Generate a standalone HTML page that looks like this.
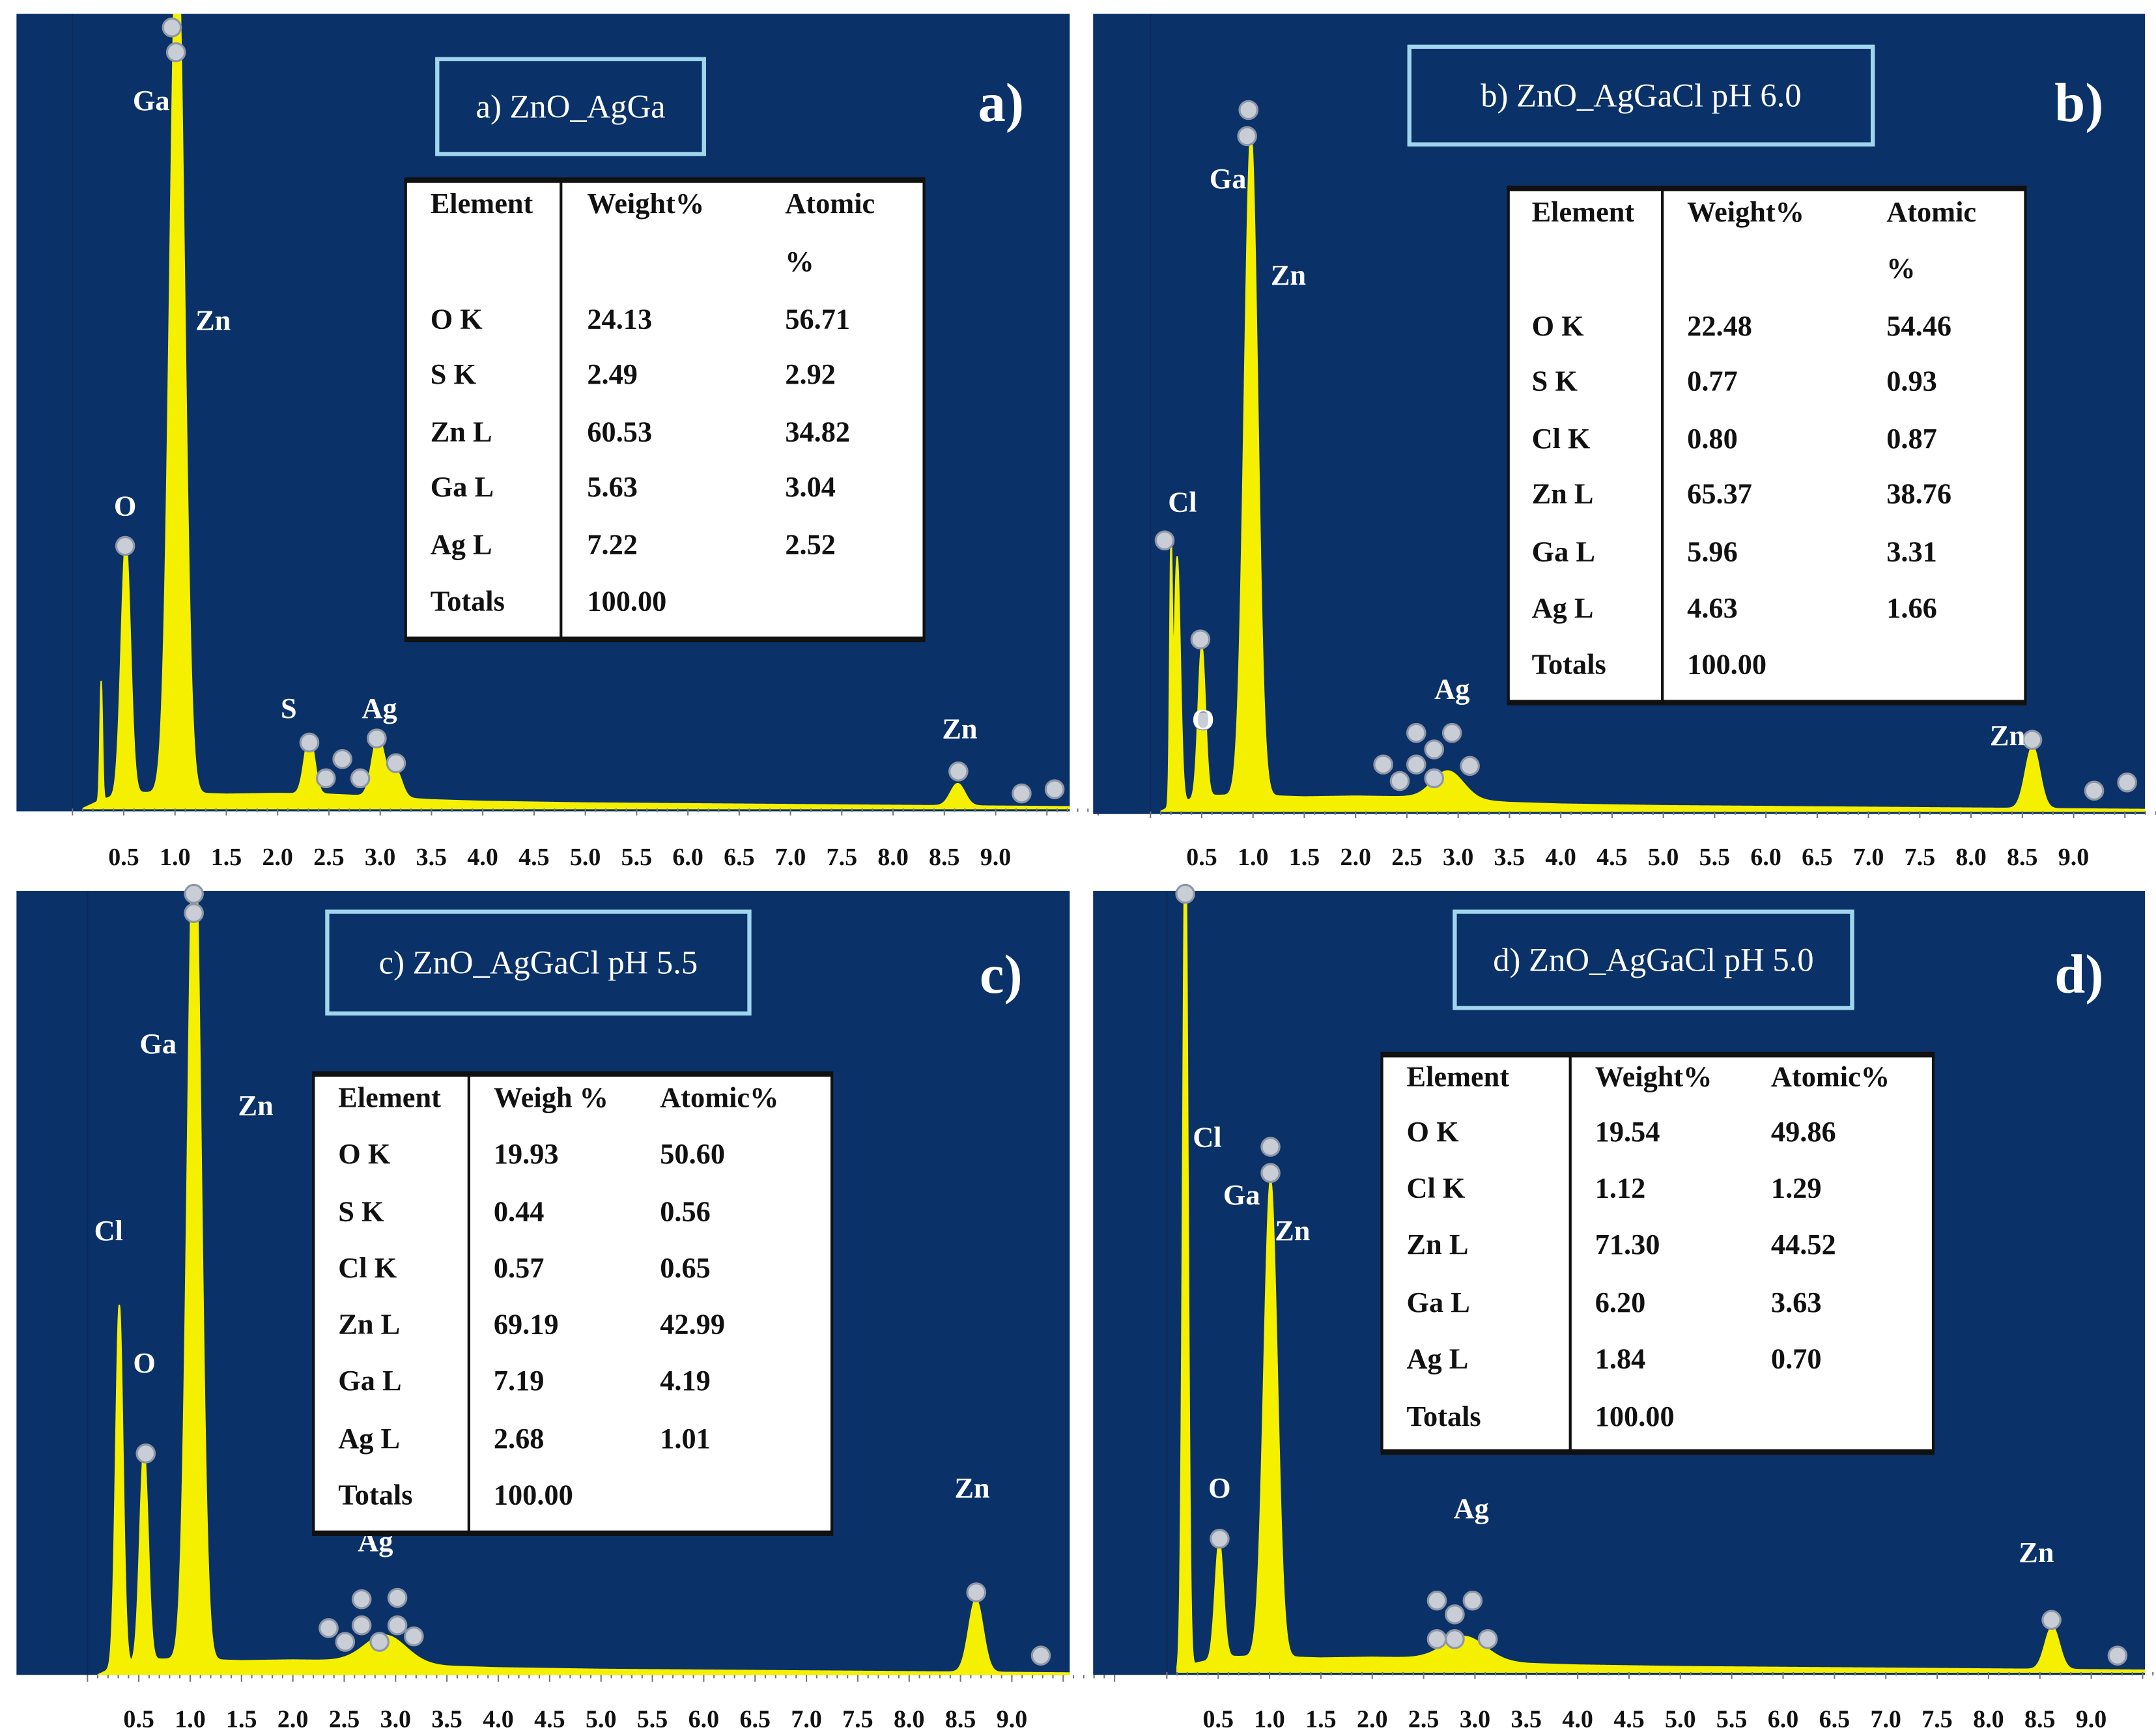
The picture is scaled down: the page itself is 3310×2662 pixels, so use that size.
<!DOCTYPE html>
<html><head><meta charset="utf-8"><style>
html,body{margin:0;padding:0;background:#fff}
svg{display:block}
text{font-family:"Liberation Serif",serif;}
</style></head><body>
<svg id="fig" width="3310" height="2662" viewBox="0 0 1568 1261" preserveAspectRatio="none" xmlns="http://www.w3.org/2000/svg">
<rect x="0" y="0" width="1568" height="1261" fill="#fff"/>
<g id="root"></g>
</svg>
<script>
// ---- data ----
const tickLabels = ["0.5","1.0","1.5","2.0","2.5","3.0","3.5","4.0","4.5","5.0","5.5","6.0","6.5","7.0","7.5","8.0","8.5","9.0"];
const tickValues = [0.5,1.0,1.5,2.0,2.5,3.0,3.5,4.0,4.5,5.0,5.5,6.0,6.5,7.0,7.5,8.0,8.5,9.0];
const bgE = [0.1,0.3,0.6,1.0,1.5,2.0,2.5,3.0,3.5,4.0,5.0,6.0,7.0,8.0,9.0,10.0];
const bgA = [0,1.2,2.0,2.0,1.8,1.9,1.8,1.5,1.1,0.9,0.7,0.6,0.5,0.4,0.3,0.2];
const peaksA_E = [0.28,0.52,1.02,2.31,2.98,3.15,8.63];
const peaksA_H = [15,32,110,7.4,7.6,3.5,2.8];
const peaksA_W = [0.012,0.045,0.07,0.05,0.06,0.06,0.07];
const peaksB_E = [0.2,0.26,0.5,0.98,2.9,8.6];
const peaksB_H = [30,31,19,83,3.5,7.8];
const peaksB_W = [0.012,0.03,0.035,0.065,0.15,0.07];
const peaksC_E = [0.31,0.55,1.04,2.9,8.65];
const peaksC_H = [46,27,110,3.5,9.3];
const peaksC_W = [0.035,0.04,0.065,0.2,0.07];
const peaksD_E = [0.18,0.51,1.01,2.9,8.62];
const peaksD_H = [110,15,61,3,5.5];
const peaksD_W = [0.025,0.04,0.065,0.2,0.07];
const tableA = [["Element","Weight%","Atomic"],["","","%"],["O K","24.13","56.71"],["S K","2.49","2.92"],["Zn L","60.53","34.82"],["Ga L","5.63","3.04"],["Ag L","7.22","2.52"],["Totals","100.00",""]];
const tableB = [["Element","Weight%","Atomic"],["","","%"],["O K","22.48","54.46"],["S K","0.77","0.93"],["Cl K","0.80","0.87"],["Zn L","65.37","38.76"],["Ga L","5.96","3.31"],["Ag L","4.63","1.66"],["Totals","100.00",""]];
const tableC = [["Element","Weigh %","Atomic%"],["O K","19.93","50.60"],["S K","0.44","0.56"],["Cl K","0.57","0.65"],["Zn L","69.19","42.99"],["Ga L","7.19","4.19"],["Ag L","2.68","1.01"],["Totals","100.00",""]];
const tableD = [["Element","Weight%","Atomic%"],["O K","19.54","49.86"],["Cl K","1.12","1.29"],["Zn L","71.30","44.52"],["Ga L","6.20","3.63"],["Ag L","1.84","0.70"],["Totals","100.00",""]];

const NS="http://www.w3.org/2000/svg";
const root=document.getElementById('root');
function mk(tag,attrs,parent){const e=document.createElementNS(NS,tag);for(const k in attrs)e.setAttribute(k,attrs[k]);(parent||root).appendChild(e);return e;}

const panels=[
 {id:'a',x:12,y:10,w:766,h:580,base:588,top:10,x0:52.7,k:74.6,labY:623,pE:peaksA_E,pH:peaksA_H,pW:peaksA_W,
  tb:{x:295,y:130,w:377,h:336,div:408,cols:[313,427,571],rows:[147,189,231,271,313,353,395,436],d:tableA},
  title:{x:318,y:43,w:194,h:69,t:"a) ZnO_AgGa"},tag:{x:728,y:88,t:"a)"},
  labels:[["Ga",110,80],["Zn",155,240],["O",91,375],["S",210,522],["Ag",276,522],["Zn",698,537]],
  circ:[[125,20],[128,38],[91,397],[225,540],[237,566],[249,552],[262,566],[274,537],[288,555],[697,561],[743,577],[767,574]]},
 {id:'b',x:795,y:10,w:765,h:582,base:590,top:10,x0:836.7,k:74.6,labY:623,pE:peaksB_E,pH:peaksB_H,pW:peaksB_W,
  tb:{x:1097,y:136,w:376,h:376,div:1209,cols:[1114,1227,1372],rows:[153,194,236,276,318,358,400,441,482],d:tableB},
  title:{x:1025,y:34,w:337,h:71,t:"b)     ZnO_AgGaCl pH 6.0"},tag:{x:1512,y:88,t:"b)"},
  labels:[["Ga",893,137],["Zn",937,207],["Cl",860,372],["O",875,530],["Ag",1056,508],["Zn",1460,542]],
  circ:[[908,80],[907,99],[847,393],[873,465],[875,524],[1006,556],[1018,568],[1030,533],[1030,556],[1043,545],[1056,533],[1043,566],[1069,557],[1478,538],[1523,575],[1547,569]]},
 {id:'c',x:12,y:648,w:766,h:570,base:1218,top:648,x0:63.6,k:74.7,labY:1250,pE:peaksC_E,pH:peaksC_H,pW:peaksC_W,
  tb:{x:228,y:780,w:377,h:336,div:341,cols:[246,359,480],rows:[797,838,880,921,962,1003,1045,1086],d:tableC},
  title:{x:238,y:663,w:307,h:74,t:"c) ZnO_AgGaCl  pH 5.5"},tag:{x:728,y:722,t:"c)"},
  labels:[["Ga",115,766],["Zn",186,811],["Cl",79,902],["O",105,998],["Ag",273,1128],["Zn",707,1089]],
  circ:[[141,650],[141,664],[106,1057],[239,1184],[251,1194],[263,1163],[263,1182],[276,1194],[289,1162],[289,1182],[301,1190],[710,1158],[757,1204]]},
 {id:'d',x:795,y:648,w:765,h:570,base:1216,top:648,x0:848.6,k:74.7,labY:1250,pE:peaksD_E,pH:peaksD_H,pW:peaksD_W,
  tb:{x:1005,y:766,w:401,h:291,div:1142,cols:[1023,1160,1288],rows:[782,822,863,904,946,987,1029],d:tableD},
  title:{x:1058,y:663,w:289,h:70,t:"d) ZnO_AgGaCl  pH 5.0"},tag:{x:1512,y:722,t:"d)"},
  labels:[["Cl",878,834],["Ga",903,876],["Zn",940,902],["O",887,1089],["Ag",1070,1104],["Zn",1481,1136]],
  circ:[[862,650],[924,834],[924,853],[887,1119],[1045,1164],[1058,1174],[1071,1164],[1045,1192],[1058,1192],[1082,1192],[1492,1178],[1540,1204]]}
];

function bgAt(e){for(let i=0;i<bgE.length-1;i++){if(e>=bgE[i]&&e<=bgE[i+1]){const t=(e-bgE[i])/(bgE[i+1]-bgE[i]);return bgA[i]+t*(bgA[i+1]-bgA[i]);}}return 0;}

panels.forEach(p=>{
  const g=mk('g',{});
  
  
  const bg=mk('rect',{x:p.x,y:p.y,width:p.w,height:p.h,fill:'#0b3169'},g);
  
  
  const cp=mk('clipPath',{id:'clip'+p.id},g);
  mk('rect',{x:p.x,y:p.y,width:p.w,height:p.h},cp);
  const xs=e=>p.x0+e*p.k;
  const ys=c=>p.base-c*(p.base-p.top)/100;
  mk('line',{x1:xs(0),y1:p.y,x2:xs(0),y2:p.base,stroke:'#0a2a5a','stroke-width':1},g);
  let d='M'+xs(0.1)+','+p.base;
  for(let e=0.1;e<=10.0;e+=0.005){
    let c=bgAt(e);
    for(let i=0;i<p.pE.length;i++){const z=(e-p.pE[i])/p.pW[i];c+=p.pH[i]*Math.exp(-0.5*z*z);}
    d+=' L'+xs(e).toFixed(2)+','+ys(c).toFixed(2);
  }
  d+=' L'+xs(10)+','+p.base+' Z';
  const sp=mk('path',{d:d,fill:'#f4f000',stroke:'#f4f000','stroke-width':1,'clip-path':'url(#clip'+p.id+')'},g);
  
  
  for(let e=0;e<=10;e+=0.1){
    mk('line',{x1:xs(e),y1:p.base,x2:xs(e),y2:p.base+ (Math.abs(e*2-Math.round(e*2))<0.01?5:2.5),stroke:'#777','stroke-width':1},g);
  }
  tickValues.forEach((v,i)=>{
    const t=mk('text',{x:xs(v),y:p.labY+6,'text-anchor':'middle','font-size':18,'font-weight':'bold',fill:'#111'},g);
    t.textContent=tickLabels[i];
    
    
  });
  p.circ.forEach(c=>{
    const ci=mk('circle',{cx:c[0],cy:c[1],r:6.5,fill:'#c8cdd6',stroke:'#8d96a6','stroke-width':1.5},g);
    
    
  });
  p.labels.forEach(l=>{
    const t=mk('text',{x:l[1],y:l[2],'text-anchor':'middle','font-size':21,'font-weight':'bold',fill:'#fff'},g);
    t.textContent=l[0];
    
    
  });
  const tb=mk('rect',{x:p.title.x,y:p.title.y,width:p.title.w,height:p.title.h,fill:'none',stroke:'#9fd6ec','stroke-width':3},g);
  
  
  const tt=mk('text',{x:p.title.x+p.title.w/2,y:p.title.y+p.title.h/2+8,'text-anchor':'middle','font-size':24,fill:'#fff','xml:space':'preserve'},g);
  tt.textContent=p.title.t;
  
  
  const tg=mk('text',{x:p.tag.x,y:p.tag.y,'text-anchor':'middle','font-size':40,'font-weight':'bold',fill:'#fff'},g);
  tg.textContent=p.tag.t;
  
  
  const T=p.tb;
  const tr=mk('rect',{x:T.x,y:T.y,width:T.w,height:T.h,fill:'#fff',stroke:'#111','stroke-width':2},g);
  
  
  mk('line',{x1:T.x,y1:T.y+1,x2:T.x+T.w,y2:T.y+1,stroke:'#111','stroke-width':4},g);
  mk('line',{x1:T.x,y1:T.y+T.h-1,x2:T.x+T.w,y2:T.y+T.h-1,stroke:'#111','stroke-width':4},g);
  mk('line',{x1:T.div,y1:T.y,x2:T.div,y2:T.y+T.h,stroke:'#111','stroke-width':2},g);
  T.d.forEach((row,ri)=>{row.forEach((cell,ci)=>{
    if(!cell)return;
    const t=mk('text',{x:T.cols[ci],y:T.rows[ri]+8,'font-size':21,'font-weight':'bold',fill:'#111'},g);
    t.textContent=cell;
    
    
  });});
});
</script>
</body></html>
